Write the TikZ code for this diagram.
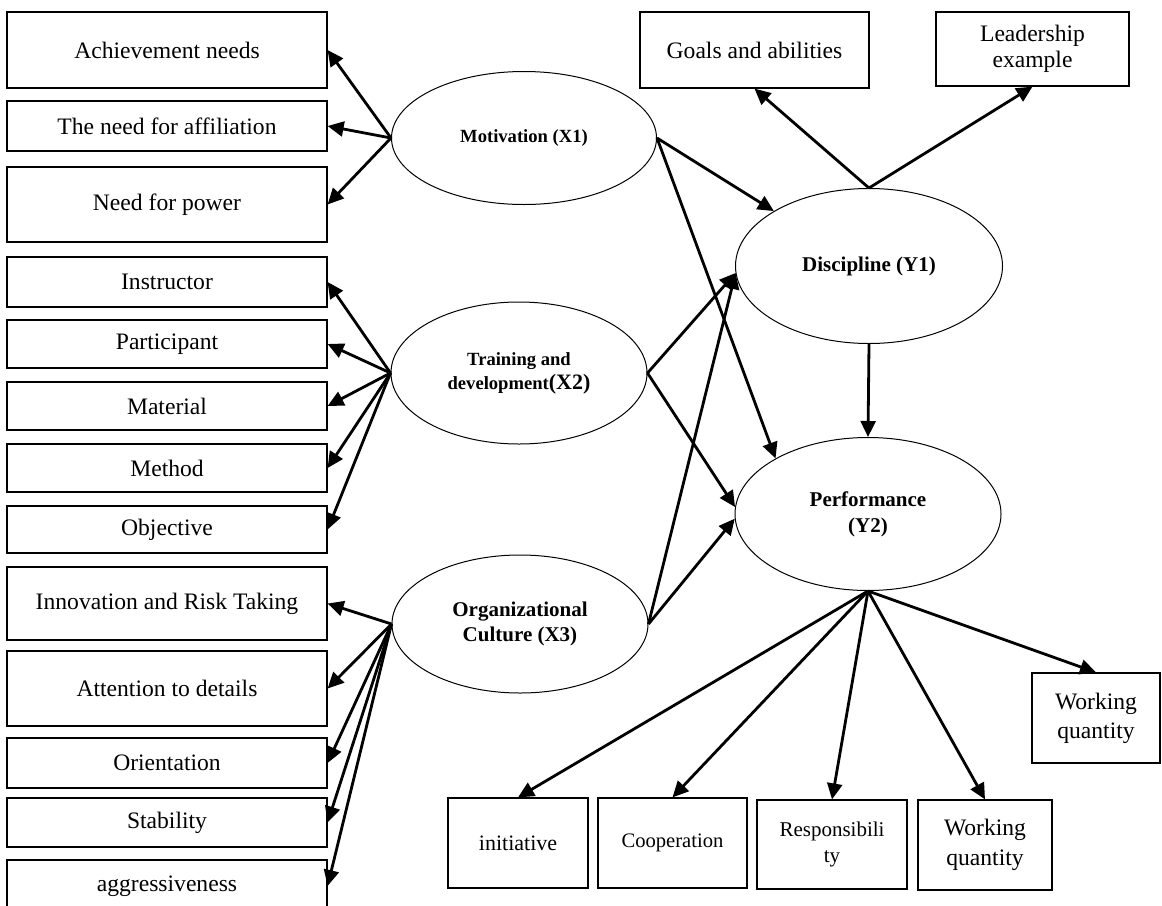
\documentclass[tikz,border=0pt]{standalone}
\usepackage{fontspec}
\setmainfont{Liberation Serif}
\usetikzlibrary{shapes.geometric,arrows.meta}

\begin{document}
\begin{tikzpicture}[x=0.5pt, y=-0.5pt,
    ind/.style={draw, line width=0.6pt, inner sep=0pt, align=center,
      font=\fontsize{11.8}{13}\selectfont},
    lat/.style={draw, ellipse, line width=0.5pt, inner sep=0pt, align=center,
      font=\bfseries\fontsize{10.5}{12.5}\selectfont},
    arr/.style={-{Triangle[length=8pt, width=7.5pt]}, line width=1.4pt}]

  \useasboundingbox (0,0) rectangle (1162,905);

% ---------------- latent variables
  \node[lat, minimum width=132.5pt, minimum height=66.5pt,
    font=\bfseries\fontsize{9.3}{11}\selectfont] (mot) at (524,138) {Motivation (X1)};
  \node[lat, minimum width=128pt, minimum height=71pt,
    font=\bfseries\fontsize{9.3}{12}\selectfont] (trn) at (519,373)
    {Training and\\development{\fontsize{11}{12}\selectfont(X2)}};
  \node[lat, minimum width=128pt, minimum height=69pt] (org) at (520,624)
    {Organizational\\Culture (X3)};
  \node[lat, minimum width=133.5pt, minimum height=77.5pt] (dis) at (869,266) {Discipline (Y1)};
  \node[lat, minimum width=133pt, minimum height=76.5pt,
    font=\bfseries\fontsize{10.5}{13}\selectfont] (per) at (868,514) {Performance\\(Y2)};

% ---------------- indicators of X1
  \node[ind, minimum width=160pt, minimum height=38pt] (ach) at (167,50) {Achievement needs};
  \node[ind, minimum width=160pt, minimum height=25pt] (aff) at (167,126) {The need for affiliation};
  \node[ind, minimum width=160pt, minimum height=37.5pt] (pow) at (167,204.5) {Need for power};

% ---------------- indicators of X2
  \node[ind, minimum width=160pt, minimum height=25pt] (ins) at (167,282) {Instructor};
  \node[ind, minimum width=160pt, minimum height=24pt] (par) at (167,344) {Participant};
  \node[ind, minimum width=160pt, minimum height=24pt] (mat) at (167,406) {Material};
  \node[ind, minimum width=160pt, minimum height=24pt] (met) at (167,468) {Method};
  \node[ind, minimum width=160pt, minimum height=23.5pt] (obj) at (167,529.5) {Objective};

% ---------------- indicators of X3
  \node[ind, minimum width=160pt, minimum height=36.5pt] (inn) at (167,603.5) {Innovation and Risk Taking};
  \node[ind, minimum width=160pt, minimum height=37.5pt] (att) at (167,688.5) {Attention to details};
  \node[ind, minimum width=160pt, minimum height=25pt] (ori) at (167,763) {Orientation};
  \node[ind, minimum width=160pt, minimum height=24.5pt] (sta) at (167,822.5) {Stability};
  \node[ind, minimum width=160pt, minimum height=26pt] (agg) at (167,886) {aggressiveness};

% ---------------- indicators of Y1
  \node[ind, minimum width=114.5pt, minimum height=38pt] (goa) at (754.5,50) {Goals and abilities};
  \node[ind, minimum width=96.5pt, minimum height=37pt] (lea) at (1032.5,49) {Leadership\\example};

% ---------------- indicators of Y2
  \node[ind, minimum width=70pt, minimum height=45pt, font=\fontsize{11}{13}\selectfont]
    (ini) at (518,843) {initiative};
  \node[ind, minimum width=74.5pt, minimum height=45pt, font=\fontsize{10.3}{13}\selectfont]
    (coo) at (672.5,843) {Cooperation};
  \node[ind, minimum width=75pt, minimum height=44.5pt, font=\fontsize{10.5}{13}\selectfont]
    (res) at (832,844.5) {Responsibili\\ty};
  \node[ind, minimum width=67pt, minimum height=45pt, font=\fontsize{11.8}{15}\selectfont]
    (wqa) at (985,845) {Working\\quantity};
  \node[ind, minimum width=64pt, minimum height=45pt, font=\fontsize{11.8}{14.5}\selectfont]
    (wqb) at (1096,718) {Working\\quantity};

% ---------------- loadings
  \foreach \t in {ach,aff,pow} \draw[arr] (mot.west) -- (\t.east);
  \foreach \t in {ins,par,mat,met,obj} \draw[arr] (trn.west) -- (\t.east);
  \foreach \t in {inn,att,ori,sta,agg} \draw[arr] (org.west) -- (\t.east);
  \draw[arr] (dis.north) -- (goa.south);
  \draw[arr] (dis.north) -- (lea.south);
  \foreach \t in {ini,coo,res,wqa,wqb} \draw[arr] (per.south) -- (\t.north);

% ---------------- structural paths
  \draw[arr] (mot.east) -- (dis.150);
  \draw[arr] (mot.east) -- (per.149);
  \draw[arr] (trn.east) -- (dis.183);
  \draw[arr] (trn.east) -- (per.177);
  \draw[arr] (org.east) -- (dis.183);
  \draw[arr] (org.east) -- (per.182);
  \draw[arr] (dis.south) -- (per.north);
\end{tikzpicture}
\end{document}
